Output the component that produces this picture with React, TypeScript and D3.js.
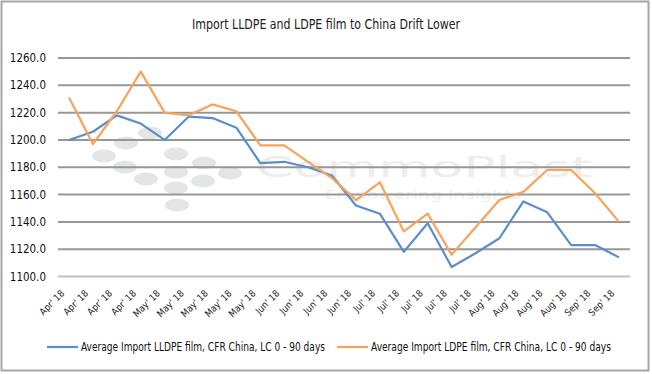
import * as d3 from "d3";

const categories = [
  "Apr' 18", "Apr' 18", "Apr' 18", "Apr' 18",
  "May' 18", "May' 18", "May' 18", "May' 18", "May' 18",
  "Jun' 18", "Jun' 18", "Jun' 18", "Jun' 18",
  "Jul' 18", "Jul' 18", "Jul' 18", "Jul' 18", "Jul' 18",
  "Aug' 18", "Aug' 18", "Aug' 18", "Aug' 18",
  "Sep' 18", "Sep' 18",
];

const lldpe = [
  1200, 1206, 1218, 1212, 1200, 1217, 1216, 1209, 1183, 1184, 1180, 1174,
  1152, 1146, 1118, 1139, 1107, 1117, 1128, 1155, 1147, 1123, 1123, 1114,
];

const ldpe = [
  1231, 1197, 1221, 1250, 1220, 1218, 1226, 1221, 1196, 1196, 1184, 1172,
  1156, 1169, 1133, 1146, 1116, 1136, 1156, 1162, 1178, 1178, 1161, 1140,
];

const yTicks = [1100, 1120, 1140, 1160, 1180, 1200, 1220, 1240, 1260];

const seriesNames = [
  "Average Import LLDPE film, CFR China, LC 0 - 90 days",
  "Average Import LDPE film, CFR China, LC 0 - 90 days",
];
const colors = ["#5b8ec8", "#f9a25a"];

// watermark dots (logo), in pixel space of the chart area
const logoDots = [
  [150, 133], [126, 143], [104, 156], [125, 167], [146, 179],
  [176, 154], [176, 172], [176, 188], [177, 205],
  [204, 163], [203, 181], [230, 173],
];

const W = 652;
const H = 374;
const font = "'DejaVu Sans Condensed', 'Liberation Sans', sans-serif";

export default function App() {
  const x = d3
    .scaleLinear()
    .domain([0, categories.length - 1])
    .range([69, 619]);
  const y = d3.scaleLinear().domain([1100, 1260]).range([276.5, 58]);

  const line = d3
    .line<number>()
    .x((_, i) => x(i))
    .y((d) => y(d));

  return (
    <svg
      width={W}
      height={H}
      style={{ position: "absolute", left: 0, top: 0, background: "#fff" }}
      fontFamily={font}
    >
      <rect x={1.5} y={1.5} width={W - 5} height={H - 5} fill="#fff" stroke="#a6a6a6" strokeWidth={2} />

      {/* watermark */}
      <g fill="#e4e6e6">
        {logoDots.map(([cx, cy], i) => (
          <ellipse key={i} cx={cx} cy={cy} rx={12} ry={6.5} />
        ))}
      </g>
      <text x={256} y={177} fontSize={29} fill="#ededed" fontFamily="'DejaVu Sans', sans-serif" textLength={336} lengthAdjust="spacingAndGlyphs">
        CommoPlast
      </text>
      <text x={325} y={199} fontSize={12} fill="#efefef" fontFamily="'DejaVu Sans', sans-serif" textLength={196} lengthAdjust="spacingAndGlyphs">
        Empowering Insights
      </text>

      <text x={326} y={29} textAnchor="middle" fontSize={14.5} fill="#222" textLength={268} lengthAdjust="spacingAndGlyphs">
        Import LLDPE and LDPE film to China Drift Lower
      </text>

      {yTicks.map((t) => (
        <g key={t}>
          <line
            x1={58}
            x2={630}
            y1={y(t)}
            y2={y(t)}
            stroke={t === 1100 ? "#c0c0c0" : "#979797"}
            strokeWidth={2}
          />
          <text x={46} y={y(t)} dy="0.35em" textAnchor="end" fontSize={11.5} fill="#111">
            {d3.format(".1f")(t)}
          </text>
        </g>
      ))}

      {categories.map((c, i) => (
        <text
          key={i}
          transform={`translate(${x(i) - 4},${294}) rotate(-45)`}
          textAnchor="end"
          fontSize={9.5}
          fill="#222"
        >
          {c}
        </text>
      ))}

      {[lldpe, ldpe].map((s, k) => (
        <path key={k} d={line(s) ?? ""} fill="none" stroke={colors[k]} strokeWidth={2.2} strokeLinejoin="round" />
      ))}

      {seriesNames.map((n, k) => {
        const lx = k === 0 ? 47 : 337;
        const len = k === 0 ? 244 : 240;
        return (
          <g key={n}>
            <line x1={lx} x2={lx + 31} y1={347} y2={347} stroke={colors[k]} strokeWidth={2.2} />
            <text x={lx + 34} y={347} dy="0.35em" fontSize={11.5} fill="#111" textLength={len} lengthAdjust="spacingAndGlyphs">
              {n}
            </text>
          </g>
        );
      })}
    </svg>
  );
}
